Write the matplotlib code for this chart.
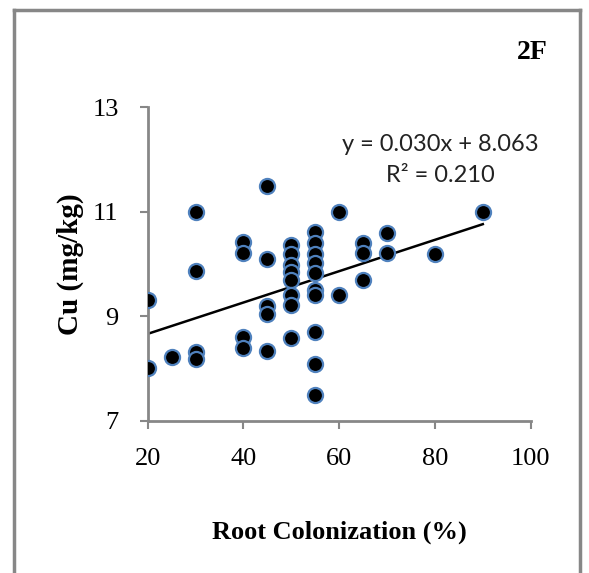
import matplotlib.pyplot as plt
import numpy as np

# colonizacion radicular (%) y Cu (mg/kg)
colonizacion = [20, 20, 25, 30, 30, 30, 30,
                40, 40, 40, 40,
                45, 45, 45, 45, 45,
                50, 50, 50, 50, 50, 50, 50, 50,
                55, 55, 55, 55, 55, 55, 55, 55, 55, 55,
                60, 60, 65, 65, 65, 70, 70, 80, 90]
cobre = [9.32, 8.00, 8.22, 11.00, 9.86, 8.32, 8.19,
         10.42, 10.21, 8.60, 8.40,
         11.50, 10.09, 9.20, 9.04, 8.33,
         10.36, 10.20, 9.99, 9.85, 9.69, 9.40, 9.21, 8.59,
         10.61, 10.40, 10.20, 10.02, 9.82, 9.50, 9.40, 8.70, 8.09, 7.49,
         11.00, 9.40, 10.40, 10.22, 9.70, 10.60, 10.21, 10.19, 11.00]

pendiente = 0.030
intercepto = 8.063
r2 = 0.210

xticks = [20, 40, 60, 80, 100]
yticks = [7, 9, 11, 13]

serif = 'Liberation Serif'
gris = '#878787'

fig = plt.figure(figsize=(5.89, 5.73), dpi=100)
ax = fig.add_axes([0.2508, 0.2658, 0.6502, 0.5469])

ax.scatter(colonizacion, cobre, s=118, color='black', edgecolor='#4f81bd',
           linewidth=1.6, zorder=3)

# linea de tendencia
xt = np.array([min(colonizacion), max(colonizacion)])
ax.plot(xt, pendiente * xt + intercepto, color='black', linewidth=1.8, zorder=2)

ax.set_xlim(20, 100)
ax.set_ylim(7, 13)
ax.set_xticks(xticks)
ax.set_yticks(yticks)
ax.set_xticklabels([str(v) for v in xticks], family=serif, fontsize=19)
ax.set_yticklabels([str(v) for v in yticks], family=serif, fontsize=19)
ax.tick_params(direction='out', length=6, width=1.5, color=gris)
ax.tick_params(axis='x', pad=14)
ax.tick_params(axis='y', pad=15)

for lado in ['top', 'right']:
    ax.spines[lado].set_visible(False)
for lado in ['left', 'bottom']:
    ax.spines[lado].set_color(gris)
    ax.spines[lado].set_linewidth(2)

ax.set_xlabel('Root Colonization (%)', family=serif, fontsize=19,
              fontweight='bold', labelpad=36)
ax.set_ylabel('Cu (mg/kg)', family=serif, fontsize=21, fontweight='bold',
              labelpad=6)

ax.text(0.763, 0.88, f'y = {pendiente:.3f}x + {intercepto:.3f}',
        transform=ax.transAxes, ha='center', va='center', fontsize=17,
        family='Lato', color='#222222')
ax.text(0.763, 0.784, f'R² = {r2:.3f}', transform=ax.transAxes,
        ha='center', va='center', fontsize=17, family='Lato', color='#222222')

fig.text(0.930, 0.909, '2F', ha='right', va='center', family=serif,
         fontsize=20, fontweight='bold')

# marco exterior (abierto por abajo)
for xs, ys in [([13.5, 13.5], [573, 10]), ([13.5, 580], [10, 10]),
               ([580, 580], [10, 573])]:
    fig.add_artist(plt.Line2D(np.array(xs) / 589, 1 - np.array(ys) / 573,
                              color=gris, linewidth=2.5))

fig.savefig('out.png')
